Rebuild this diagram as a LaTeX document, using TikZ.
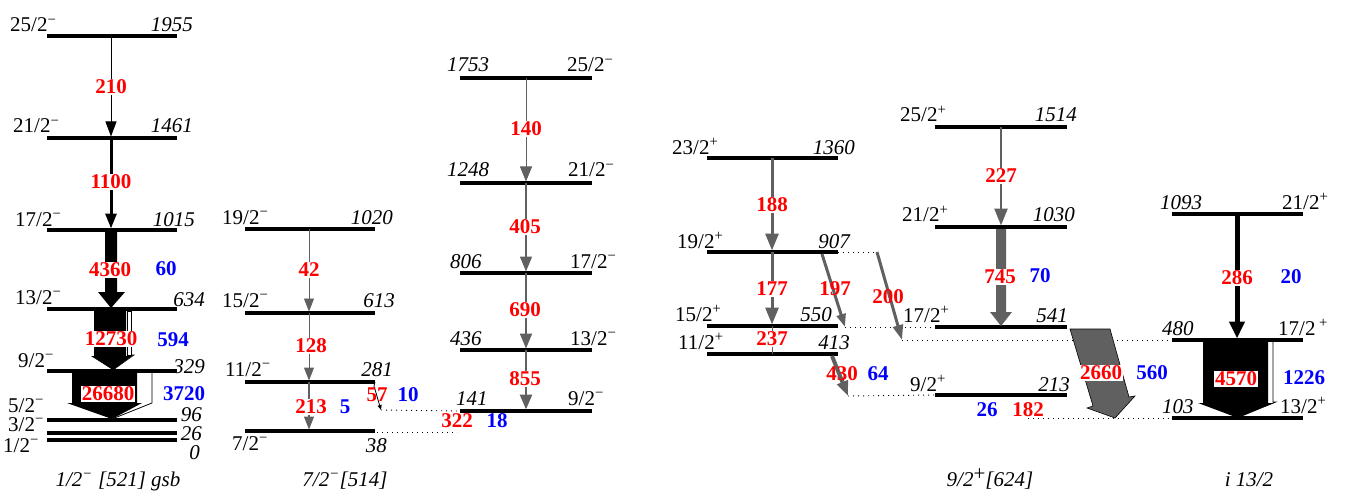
\documentclass[tikz,border=0pt]{standalone}
\usepackage{fontspec}
\setmainfont{Liberation Serif}
\usetikzlibrary{arrows.meta,calc}
\definecolor{ared}{HTML}{FF0000}
\definecolor{ablue}{HTML}{0000FF}
\definecolor{agray}{HTML}{606060}
\newcommand{\mi}{\textsuperscript{−}}
\newcommand{\pl}{\textsuperscript{+}}
\newcommand{\lev}[4]{%
  \coordinate (#1L) at (#2,#4);
  \coordinate (#1R) at (#3,#4);
  \draw[lvl] (#1L) -- (#1R);}
\begin{document}
\begin{tikzpicture}[x=1pt,y=-1pt,
  lvl/.style={line width=3.5pt},
  en/.style={inner sep=0pt,font=\fontsize{21}{24}\selectfont\itshape},
  sp/.style={inner sep=0pt,font=\fontsize{21}{24}\selectfont},
  rl/.style={inner sep=1pt,font=\fontsize{21}{24}\selectfont\bfseries,text=ared,fill=white},
  rn/.style={inner sep=1pt,font=\fontsize{21}{24}\selectfont\bfseries,text=ared},
  bl/.style={inner sep=1pt,font=\fontsize{21}{24}\selectfont\bfseries,text=ablue},
  dl/.style={line width=0.9pt,dash pattern=on 1.2pt off 3.8pt},
  gA/.style={draw=agray,line width=#1,shorten >=1.5pt,-{Triangle[width=10pt,length=13pt]}},
  gB/.style={draw=agray,line width=#1,shorten >=1.5pt,-{Triangle[width=12pt,length=15pt]}},
  gC/.style={draw=agray,line width=#1,shorten >=1.5pt,-{Triangle[width=13pt,length=17pt]}},
  kA/.style={draw=black,line width=#1,shorten >=1.5pt,-{Triangle[width=11pt,length=15pt]}},
  kB/.style={draw=black,line width=#1,shorten >=1.5pt,-{Triangle[width=15pt,length=17pt]}},
]
\useasboundingbox (0,0) rectangle (1347,492);

% arrow x positions
\coordinate (xa) at (111,0);
\coordinate (xb) at (309,0);
\coordinate (xc) at (526,0);
\coordinate (xd) at (772,0);
\coordinate (xe) at (1001,0);
\coordinate (xf) at (1237,0);

% dotted links
\coordinate (p57) at (381,410);
\coordinate (p38) at (377,432);
\coordinate (q38) at (457,432);
\coordinate (d907d) at (877,252);
\coordinate (t197) at (845,327);
\coordinate (t200) at (902,340);
\coordinate (t430) at (848,396);
\coordinate (s182) at (1028,418);

% ---------- levels ----------
\lev{a1955}{47}{177}{36}
\lev{a1461}{47}{177}{138}
\lev{a1015}{47}{177}{230}
\lev{a634}{47}{177}{309}
\lev{a329}{47}{177}{371}
\lev{a96}{47}{177}{420}
\lev{a26}{47}{177}{433}
\lev{a0}{47}{177}{440}

\lev{b1020}{245}{375}{229}
\lev{b613}{245}{375}{313}
\lev{b281}{245}{375}{382}
\lev{b38}{245}{375}{431}

\lev{c1753}{460}{592}{78}
\lev{c1248}{460}{592}{183}
\lev{c806}{460}{592}{273}
\lev{c436}{460}{592}{350}
\lev{c141}{460}{592}{411}

\lev{d1360}{707}{838}{158}
\lev{d907}{707}{838}{252}
\lev{d550}{707}{838}{326}
\lev{d413}{707}{838}{354}

\lev{e1514}{935}{1067}{127}
\lev{e1030}{935}{1067}{227}
\lev{e541}{935}{1067}{327}
\lev{e213}{935}{1067}{395}

\lev{f1093}{1172}{1303}{214}
\lev{f480}{1172}{1303}{340}
\lev{f103}{1172}{1303}{418}

% dotted lines
\draw[dl] (p57) -- (c141L);
\draw[dl] (p38) -- (q38);
\draw[dl] (d907R) -- (d907d);
\draw[dl] (t197) -- (e541L);
\draw[dl] (t200) -- (f480L);
\draw[dl] (t430) -- (e213L);
\draw[dl] (s182) -- (f103L);

% ---------- band 1 ----------
\draw[kA=1pt] (xa |- a1955L) -- (xa |- a1461L);
\draw[kA=3pt] (xa |- a1461L) -- (xa |- a1015L);
\fill (105,232) -- (117,232) -- (117,292) -- (125,292) -- (111,308) -- (98,292) -- (105,292) -- cycle;
\fill (94,311) -- (126,311) -- (126,356) -- (132,356) -- (113,370) -- (91,356) -- (94,356) -- cycle;
\draw[line width=0.6pt,fill=white] (127,311) rectangle (131,355);
\draw[line width=0.6pt] (131,355) -- (134,355) -- (113,370);
\fill (72,373) -- (137,373) -- (137,403) -- (142,403) -- (112,419) -- (67,403) -- (72,403) -- cycle;
\draw[line width=0.8pt] (152,373) -- (152,403) -- (112,419);

% ---------- band 2 ----------
\draw[gA=0.8pt] (xb |- b1020L) -- (xb |- b613L);
\draw[gA=1pt] (xb |- b613L) -- (xb |- b281L);
\draw[gA=1.2pt] (xb |- b281L) -- (xb |- b38L);
\draw[line width=0.8pt,-{Triangle[width=4pt,length=5pt]}] (b281R) -- (374,386) -- (p57);

% ---------- band 3 ----------
\draw[gB=0.8pt] (xc |- c1753L) -- (xc |- c1248L);
\draw[gB=1.5pt] (xc |- c1248L) -- (xc |- c806L);
\draw[gB=2pt] (xc |- c806L) -- (xc |- c436L);
\draw[gB=2.5pt] (xc |- c436L) -- (xc |- c141L);

% ---------- band 4 ----------
\draw[gC=3pt] (xd |- d1360L) -- (xd |- d907L);
\draw[gC=3pt] (xd |- d907L) -- (xd |- d550L);
\draw[draw=agray,line width=1pt] (xd |- d550L) -- (xd |- d413L);
\draw[draw=agray,line width=3pt,-{Triangle[width=9pt,length=13pt]}] (822,254) -- (t197);
\draw[draw=agray,line width=3pt,-{Triangle[width=10pt,length=15pt]}] (d907d) -- (t200);
\draw[draw=agray,line width=4pt,-{Triangle[width=11pt,length=15pt]}] (832,356) -- (t430);

% ---------- band 5 ----------
\draw[gC=2.5pt] (xe |- e1514L) -- (xe |- e1030L);
\fill[agray] (996,229) -- (1006,229) -- (1006,312) -- (1012,312) -- (1001,326) -- (990,312) -- (996,312) -- cycle;
\draw[fill=agray,line width=0.6pt] (1070,329) -- (1110,329) -- (1129,397) -- (1135,396) -- (1115,418) -- (1087,408) -- (1093,406) -- cycle;

% ---------- band 6 ----------
\draw[kB=5pt] (xf |- f1093L) -- (xf |- f480L);
\fill (1203,342) -- (1268,342) -- (1268,403) -- (1274,403) -- (1238,418) -- (1198,403) -- (1203,403) -- cycle;
\draw[line width=0.6pt] (1273,342) -- (1273,402) -- (1276,402) -- (1240,416);

% ---------- level labels ----------
\node[sp,anchor=base west] (s1955) at (10,32) {25/2\mi};
\node[en,anchor=base east] (n1955) at (193,32) {1955};
\node[sp,anchor=base west] (s1461) at (13,133) {21/2\mi};
\node[en,anchor=base east] (n1461) at (193,133) {1461};
\node[sp,anchor=base west] (s1015) at (15,226) {17/2\mi};
\node[en,anchor=base east] (n1015) at (195,226) {1015};
\node[sp,anchor=base west] (s634) at (15,304) {13/2\mi};
\node[en,anchor=base east] (n634) at (205,306) {634};
\node[sp,anchor=base west] (s329) at (18,367) {9/2\mi};
\node[en,anchor=base east] (n329) at (205,373) {329};
\node[sp,anchor=base west] (s96) at (8,412) {5/2\mi};
\node[en,anchor=base east] (n96) at (202,421) {96};
\node[sp,anchor=base west] (s26) at (8,431) {3/2\mi};
\node[en,anchor=base east] (n26) at (202,440) {26};
\node[sp,anchor=base west] (s0) at (3,452) {1/2\mi};
\node[en,anchor=base east] (n0) at (200,459) {0};

\node[sp,anchor=base west] (s1020) at (222,224) {19/2\mi};
\node[en,anchor=base east] (n1020) at (393,224) {1020};
\node[sp,anchor=base west] (s613) at (222,307) {15/2\mi};
\node[en,anchor=base east] (n613) at (395,307) {613};
\node[sp,anchor=base west] (s281) at (225,376) {11/2\mi};
\node[en,anchor=base east] (n281) at (393,376) {281};
\node[sp,anchor=base west] (s38) at (232,450) {7/2\mi};
\node[en,anchor=base east] (n38) at (387,452) {38};

\node[en,anchor=base west] (n1753) at (447,72) {1753};
\node[sp,anchor=base west] (s1753) at (567,72) {25/2\mi};
\node[en,anchor=base west] (n1248) at (447,177) {1248};
\node[sp,anchor=base west] (s1248) at (568,177) {21/2\mi};
\node[en,anchor=base west] (n806) at (450,268) {806};
\node[sp,anchor=base west] (s806) at (570,268) {17/2\mi};
\node[en,anchor=base west] (n436) at (450,345) {436};
\node[sp,anchor=base west] (s436) at (570,345) {13/2\mi};
\node[en,anchor=base west] (n141) at (456,405) {141};
\node[sp,anchor=base west] (s141) at (568,405) {9/2\mi};

\node[sp,anchor=base west] (s1360) at (672,154) {23/2\pl};
\node[en,anchor=base east] (n1360) at (855,154) {1360};
\node[sp,anchor=base west] (s907) at (677,248) {19/2\pl};
\node[en,anchor=base east] (n907) at (850,248) {907};
\node[sp,anchor=base west] (s550) at (675,321) {15/2\pl};
\node[en,anchor=base east] (n550) at (832,321) {550};
\node[sp,anchor=base west] (s413) at (678,349) {11/2\pl};
\node[en,anchor=base east] (n413) at (850,349) {413};

\node[sp,anchor=base west] (s1514) at (900,122) {25/2\pl};
\node[en,anchor=base east] (n1514) at (1077,122) {1514};
\node[sp,anchor=base west] (s1030) at (902,222) {21/2\pl};
\node[en,anchor=base east] (n1030) at (1075,222) {1030};
\node[sp,anchor=base west] (s541) at (903,322) {17/2\pl};
\node[en,anchor=base east] (n541) at (1068,322) {541};
\node[sp,anchor=base west] (s213) at (910,391) {9/2\pl};
\node[en,anchor=base east] (n213) at (1070,391) {213};

\node[en,anchor=base west] (n1093) at (1160,209) {1093};
\node[sp,anchor=base west] (s1093) at (1282,209) {21/2\pl};
\node[en,anchor=base west] (n480) at (1162,335) {480};
\node[sp,anchor=base west] (s480) at (1278,335) {17/2\,\pl};
\node[en,anchor=base west] (n103) at (1162,413) {103};
\node[sp,anchor=base west] (s103) at (1280,413) {13/2\pl};

% ---------- band labels ----------
\node[en,anchor=base] (bandA) at (118,486) {1/2\textsuperscript{−} [521] gsb};
\node[en,anchor=base] (bandB) at (345,486) {7/2\textsuperscript{−}[514]};
\node[en,anchor=base] (bandE) at (990,486) {9/2\raisebox{0.55ex}{\upshape +}[624]};
\node[en,anchor=base] (bandF) at (1249,486) {i 13/2};

% ---------- transition labels ----------
\node[rl] (t210) at (111,87) {210};
\node[rl] (t1100) at (111,182) {1100};
\node[rl] (t4360) at (110,270) {4360};
\node[bl] (u60) at (166,269) {60};
\node[rl] (t12730) at (111,339) {12730};
\node[bl] (u594) at (173,340) {594};
\node[rl] (t26680) at (108,394) {26680};
\node[bl] (u3720) at (184,394) {3720};

\node[rl] (t42) at (309,270) {42};
\node[rl] (t128) at (311,346) {128};
\node[rl] (t213) at (311,407) {213};
\node[bl] (u5) at (345,407) {5};
\node[rn] (t57) at (377,395) {57};
\node[bl] (u10) at (408,395) {10};
\node[rn] (t322) at (457,421) {322};
\node[bl] (u18) at (497,421) {18};

\node[rl] (t140) at (526,129) {140};
\node[rl] (t405) at (525,227) {405};
\node[rl] (t690) at (525,310) {690};
\node[rl] (t855) at (525,379) {855};

\node[rl] (t188) at (772,205) {188};
\node[rl] (t177) at (772,289) {177};
\node[rn] (t197) at (835,289) {197};
\node[rl] (t237) at (772,339) {237};
\node[rn] (t430) at (842,374) {430};
\node[bl] (u64) at (878,374) {64};
\node[rn] (t200) at (888,297) {200};

\node[rl] (t227) at (1001,176) {227};
\node[rl] (t745) at (1000,277) {745};
\node[bl] (u70) at (1040,276) {70};
\node[bl] (u26) at (987,410) {26};
\node[rn] (t182) at (1028,410) {182};
\node[rl] (t2660) at (1101,373) {2660};
\node[bl] (u560) at (1152,373) {560};

\node[rl] (t286) at (1237,278) {286};
\node[bl] (u20) at (1291,277) {20};
\node[rl] (t4570) at (1236,379) {4570};
\node[bl] (u1226) at (1304,378) {1226};
\end{tikzpicture}
\end{document}
